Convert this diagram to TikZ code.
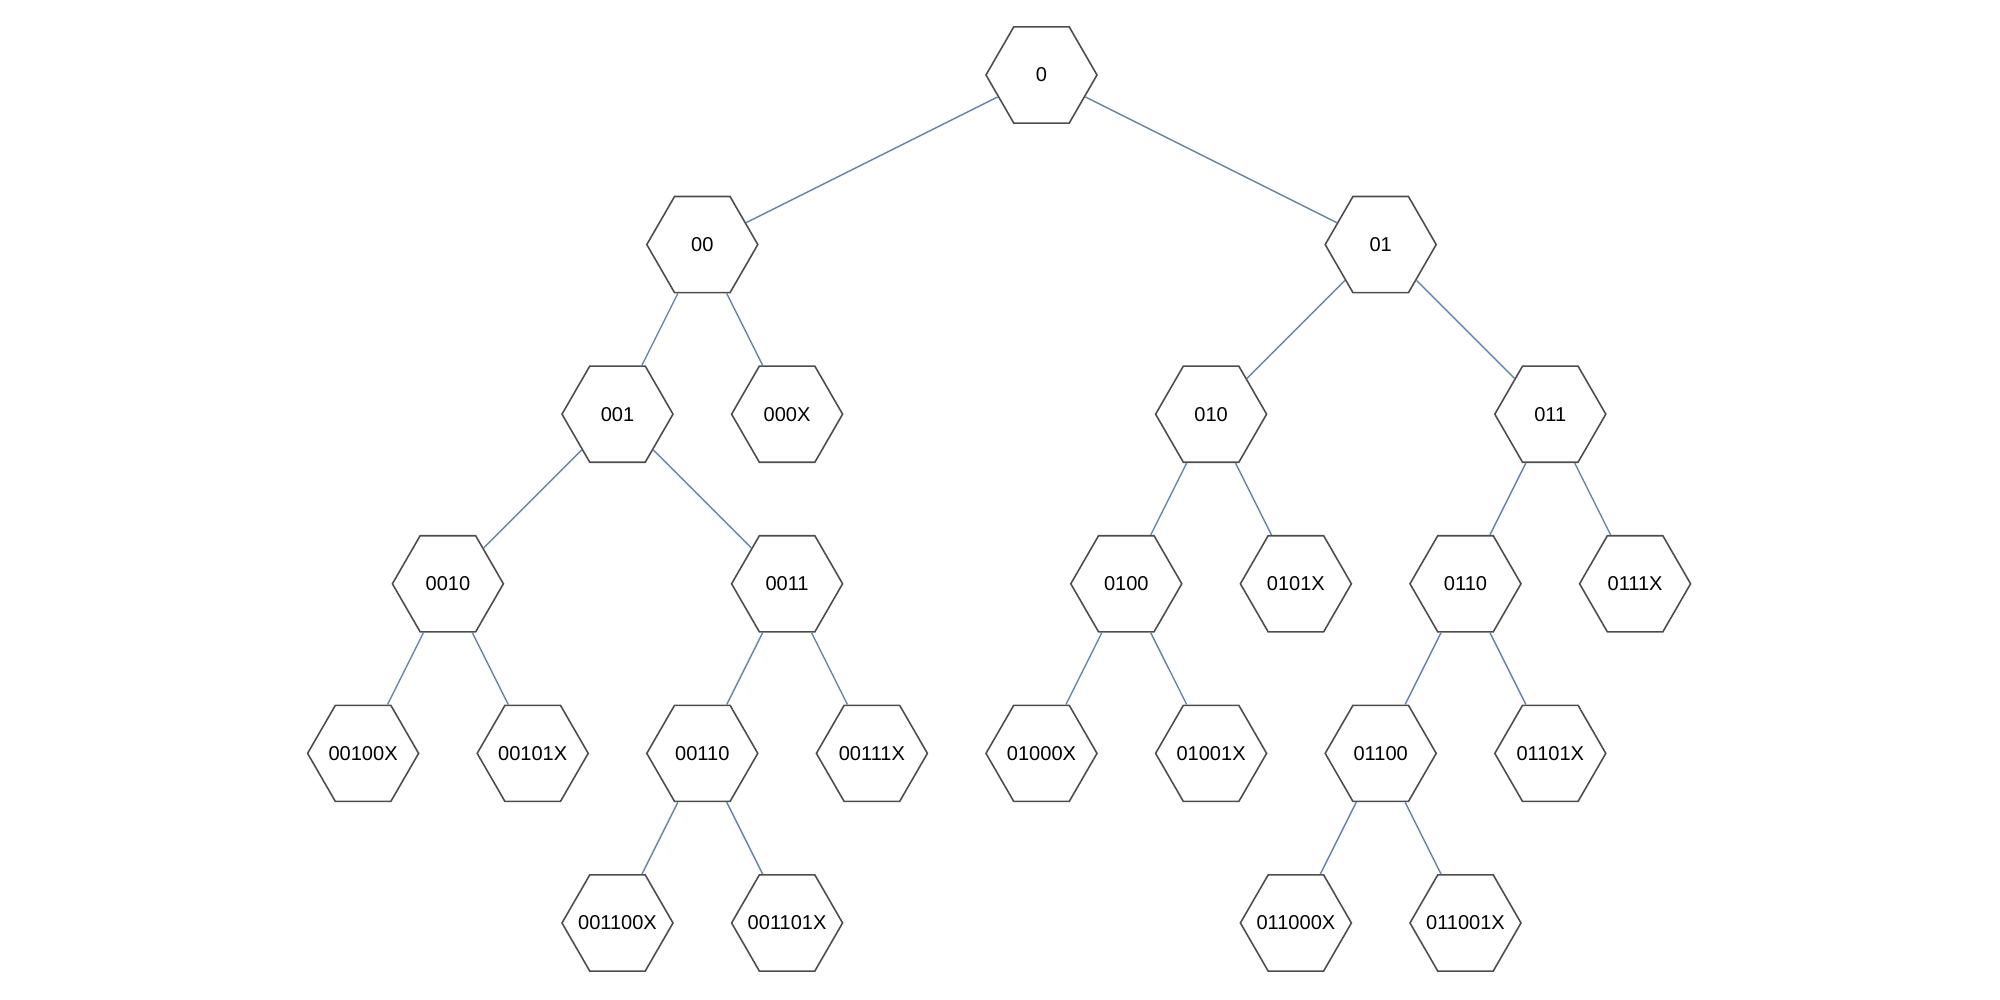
\documentclass[tikz,border=0pt]{standalone}
\usepackage{fontspec}
\setmainfont{Liberation Sans}
\usetikzlibrary{shapes.geometric}
\definecolor{hexborder}{RGB}{77,77,77}
\definecolor{edgecol}{RGB}{102,132,176}
\newcommand{\hexlbl}[1]{\makebox[0pt][c]{#1}}
\tikzset{
  hexnode/.style={regular polygon, regular polygon sides=6, draw=hexborder, line width=0.45pt,
    minimum size=1.11cm, inner sep=0pt, fill=white, font=\fontsize{5.7}{7}\selectfont},
  edgeline/.style={draw=edgecol, line width=0.4pt}
}
\begin{document}
\begin{tikzpicture}[x=0.848cm, y=0.848cm]
\useasboundingbox[fill=white] (-12.282,-10.908) rectangle (11.303,0.884);
\node[hexnode] (n0) at (0,0) {\hexlbl{0}};
\node[hexnode] (n00) at (-4,-2) {\hexlbl{00}};
\node[hexnode] (n01) at (4,-2) {\hexlbl{01}};
\node[hexnode] (n001) at (-5,-4) {\hexlbl{001}};
\node[hexnode] (n000X) at (-3,-4) {\hexlbl{000X}};
\node[hexnode] (n010) at (2,-4) {\hexlbl{010}};
\node[hexnode] (n011) at (6,-4) {\hexlbl{011}};
\node[hexnode] (n0010) at (-7,-6) {\hexlbl{0010}};
\node[hexnode] (n0011) at (-3,-6) {\hexlbl{0011}};
\node[hexnode] (n0100) at (1,-6) {\hexlbl{0100}};
\node[hexnode] (n0101X) at (3,-6) {\hexlbl{0101X}};
\node[hexnode] (n0110) at (5,-6) {\hexlbl{0110}};
\node[hexnode] (n0111X) at (7,-6) {\hexlbl{0111X}};
\node[hexnode] (n00100X) at (-8,-8) {\hexlbl{00100X}};
\node[hexnode] (n00101X) at (-6,-8) {\hexlbl{00101X}};
\node[hexnode] (n00110) at (-4,-8) {\hexlbl{00110}};
\node[hexnode] (n00111X) at (-2,-8) {\hexlbl{00111X}};
\node[hexnode] (n01000X) at (0,-8) {\hexlbl{01000X}};
\node[hexnode] (n01001X) at (2,-8) {\hexlbl{01001X}};
\node[hexnode] (n01100) at (4,-8) {\hexlbl{01100}};
\node[hexnode] (n01101X) at (6,-8) {\hexlbl{01101X}};
\node[hexnode] (n001100X) at (-5,-10) {\hexlbl{001100X}};
\node[hexnode] (n001101X) at (-3,-10) {\hexlbl{001101X}};
\node[hexnode] (n011000X) at (3,-10) {\hexlbl{011000X}};
\node[hexnode] (n011001X) at (5,-10) {\hexlbl{011001X}};
\foreach \a/\b in {n0/n00, n0/n01, n00/n001, n00/n000X, n01/n010, n01/n011,
  n001/n0010, n001/n0011, n010/n0100, n010/n0101X, n011/n0110, n011/n0111X,
  n0010/n00100X, n0010/n00101X, n0011/n00110, n0011/n00111X,
  n0100/n01000X, n0100/n01001X, n0110/n01100, n0110/n01101X,
  n00110/n001100X, n00110/n001101X, n01100/n011000X, n01100/n011001X}
  \draw[edgeline] (\a) -- (\b);
\end{tikzpicture}
\end{document}
